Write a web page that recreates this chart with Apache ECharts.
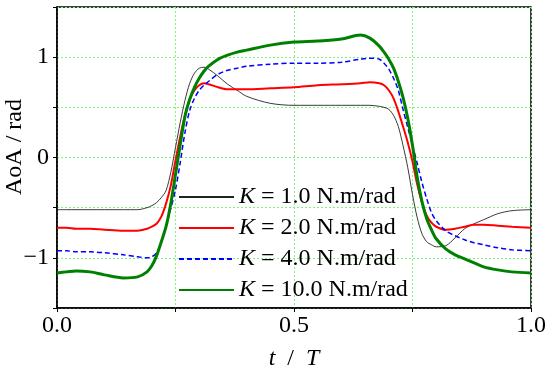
<!DOCTYPE html>
<html>
<head>
<meta charset="utf-8">
<script src="https://cdn.jsdelivr.net/npm/echarts@6/dist/echarts.min.js"></script>
<style>
html,body{margin:0;padding:0;background:#fff;}
#chart{width:550px;height:368px;}
</style>
</head>
<body>
<div id="chart"></div>
<script>
// t / T
const t = [0, 0.02, 0.04, 0.07, 0.1, 0.14, 0.17, 0.19, 0.2, 0.21, 0.22, 0.23, 0.24, 0.25, 0.26, 0.27, 0.28, 0.29, 0.3, 0.31, 0.32, 0.34, 0.36, 0.38, 0.4, 0.45, 0.5, 0.55, 0.6, 0.64, 0.66, 0.68, 0.69, 0.7, 0.71, 0.72, 0.73, 0.74, 0.75, 0.76, 0.77, 0.78, 0.79, 0.8, 0.82, 0.84, 0.86, 0.88, 0.9, 0.93, 0.96, 1.0];
// AoA for K = 1.0
const aK1 = [-0.52, -0.52, -0.52, -0.52, -0.52, -0.52, -0.52, -0.50, -0.48, -0.45, -0.40, -0.33, -0.15, 0.10, 0.35, 0.57, 0.74, 0.84, 0.89, 0.90, 0.88, 0.81, 0.73, 0.67, 0.61, 0.54, 0.52, 0.52, 0.52, 0.52, 0.52, 0.51, 0.50, 0.48, 0.42, 0.31, 0.12, -0.10, -0.37, -0.60, -0.76, -0.84, -0.87, -0.89, -0.88, -0.80, -0.71, -0.66, -0.62, -0.56, -0.53, -0.52];
// AoA for K = 2.0
const aK2 = [-0.70, -0.70, -0.71, -0.71, -0.72, -0.73, -0.73, -0.71, -0.69, -0.66, -0.59, -0.46, -0.28, -0.03, 0.21, 0.42, 0.58, 0.67, 0.72, 0.74, 0.73, 0.70, 0.68, 0.68, 0.68, 0.69, 0.70, 0.72, 0.73, 0.74, 0.75, 0.74, 0.72, 0.67, 0.59, 0.46, 0.31, 0.15, -0.04, -0.27, -0.45, -0.58, -0.65, -0.69, -0.72, -0.71, -0.69, -0.67, -0.67, -0.68, -0.69, -0.70];
// AoA for K = 4.0
const aK4 = [-0.93, -0.93, -0.94, -0.94, -0.95, -0.97, -0.99, -1.00, -0.99, -0.95, -0.85, -0.68, -0.51, -0.32, -0.05, 0.25, 0.47, 0.59, 0.67, 0.72, 0.76, 0.83, 0.87, 0.89, 0.91, 0.93, 0.94, 0.94, 0.95, 0.98, 0.99, 0.98, 0.94, 0.88, 0.79, 0.67, 0.48, 0.30, 0.12, -0.06, -0.25, -0.41, -0.55, -0.63, -0.73, -0.78, -0.82, -0.85, -0.87, -0.90, -0.92, -0.93];
// AoA for K = 10.0
const aK10 = [-1.15, -1.14, -1.13, -1.14, -1.17, -1.20, -1.19, -1.14, -1.08, -0.98, -0.84, -0.69, -0.46, -0.17, 0.13, 0.41, 0.58, 0.70, 0.79, 0.86, 0.91, 0.98, 1.02, 1.05, 1.07, 1.12, 1.15, 1.16, 1.18, 1.22, 1.19, 1.11, 1.05, 0.98, 0.89, 0.76, 0.60, 0.39, 0.12, -0.20, -0.44, -0.61, -0.72, -0.81, -0.91, -0.97, -1.01, -1.05, -1.09, -1.12, -1.14, -1.15];

const seriesNames = ['K = 1.0 N.m/rad', 'K = 2.0 N.m/rad', 'K = 4.0 N.m/rad', 'K = 10.0 N.m/rad'];
const yTickLabels = {'-1': '\u22121', '0': '0', '1': '1'};
const xTickLabels = {'0': '0.0', '0.5': '0.5', '1': '1.0'};

const FONT = '"Liberation Serif", "Times New Roman", serif';
const pairs = arr => t.map((x, i) => [x, arr[i]]);

const chart = echarts.init(document.getElementById('chart'), null, {renderer: 'canvas'});
const gridLine = {show: true, lineStyle: {color: '#7df57d', type: [2, 2], width: 1}};

chart.setOption({
  animation: false,
  backgroundColor: '#fff',
  grid: {left: 57, right: 19, top: 7, bottom: 60, show: true, borderColor: '#000', borderWidth: 1.5,
    containLabel: false, outerBoundsMode: 'none'},
  xAxis: {
    type: 'value', min: 0, max: 1, interval: 0.25,
    axisLine: {onZero: false, lineStyle: {color: '#000', width: 1.5}},
    axisTick: {show: true, inside: false, length: 4, lineStyle: {color: '#000'}},
    axisLabel: {
      margin: 6, color: '#000', fontFamily: FONT, fontSize: 24,
      formatter: v => xTickLabels[String(v)] || ''
    },
    splitLine: gridLine,
    name: '{i|t}  /  {i|T}', nameLocation: 'middle', nameGap: 39,
    nameTextStyle: {color: '#000', fontFamily: FONT, fontSize: 24,
      rich: {i: {fontStyle: 'italic', fontFamily: FONT, fontSize: 24, color: '#000'}}}
  },
  yAxis: {
    type: 'value', min: -1.5, max: 1.5, interval: 0.5,
    axisLine: {lineStyle: {color: '#000', width: 1.5}},
    axisTick: {show: true, inside: false, length: 4, lineStyle: {color: '#000'}},
    axisLabel: {
      margin: 8, color: '#000', fontFamily: FONT, fontSize: 24,
      formatter: v => yTickLabels[String(v)] || ''
    },
    splitLine: gridLine
  },
  graphic: [{
    type: 'text', x: 15, y: 147, rotation: Math.PI / 2,
    style: {text: 'AoA / rad', font: '24px ' + FONT, fill: '#000', align: 'center', verticalAlign: 'middle'}
  }],
  legend: {
    orient: 'vertical', left: 178, top: 185, padding: 0, itemWidth: 55, itemHeight: 14, itemGap: 7,
    data: seriesNames,
    itemStyle: {opacity: 0, borderWidth: 0},
    formatter: name => '{i|K}' + name.slice(1),
    textStyle: {color: '#000', fontFamily: FONT, fontSize: 24, lineHeight: 24,
      rich: {i: {fontStyle: 'italic', fontFamily: FONT, fontSize: 24, lineHeight: 24, color: '#000'}}}
  },
  series: [
    {name: seriesNames[0], type: 'line', data: pairs(aK1), showSymbol: false, symbol: 'none', smooth: 0.3,
      lineStyle: {color: '#222', width: 0.9}, itemStyle: {color: '#222'}},
    {name: seriesNames[1], type: 'line', data: pairs(aK2), showSymbol: false, symbol: 'none', smooth: 0.3,
      lineStyle: {color: '#ff0000', width: 2}, itemStyle: {color: '#ff0000'}},
    {name: seriesNames[2], type: 'line', data: pairs(aK4), showSymbol: false, symbol: 'none', smooth: 0.3,
      lineStyle: {color: '#0000ff', width: 1.5, type: [5, 3]}, itemStyle: {color: '#0000ff'}},
    {name: seriesNames[3], type: 'line', data: pairs(aK10), showSymbol: false, symbol: 'none', smooth: 0.3,
      lineStyle: {color: '#008000', width: 3}, itemStyle: {color: '#008000'}}
  ]
});
</script>
</body>
</html>
